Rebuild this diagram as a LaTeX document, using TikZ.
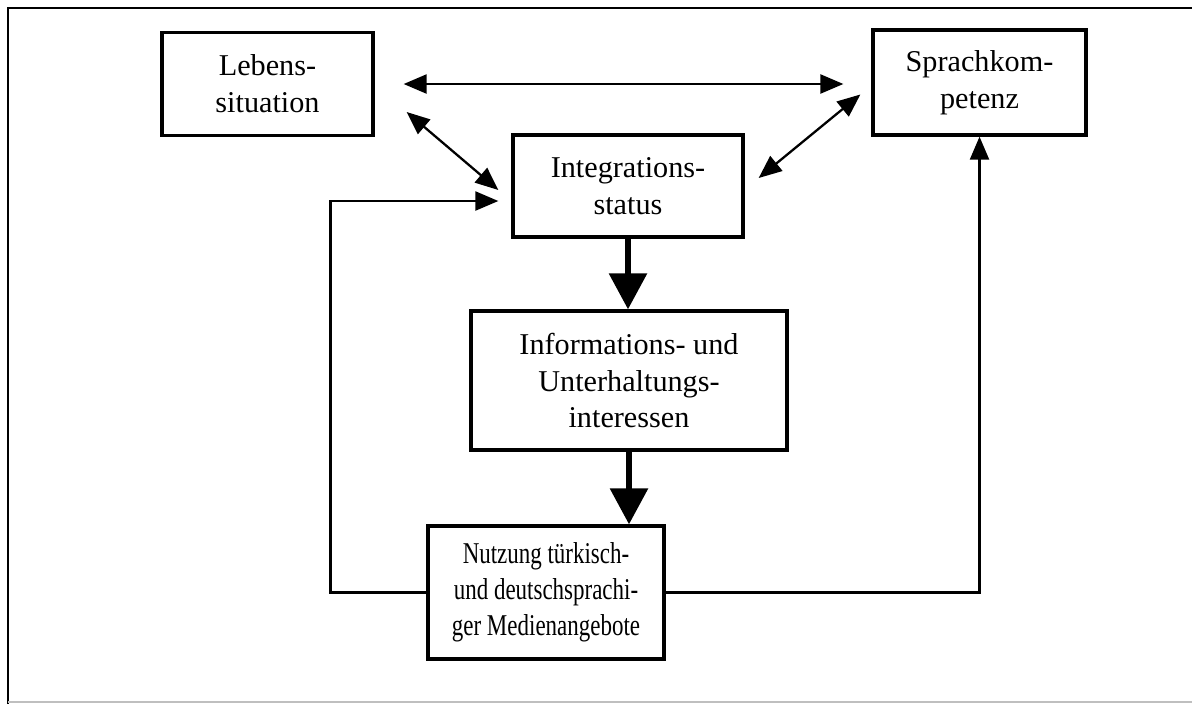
\documentclass[tikz,border=0pt]{standalone}
\usepackage{fontspec}
\setmainfont{Liberation Serif}
\newfontfamily\narrowserif[FakeStretch=0.76]{Liberation Serif}
\usetikzlibrary{arrows.meta,calc}

\tikzset{
  box/.style={draw, line width=1.9pt, align=center, inner sep=0pt},
  twoway/.style={line width=1.3pt, {Triangle[length=0.46cm,width=0.38cm]}-{Triangle[length=0.46cm,width=0.38cm]}},
  link/.style={line width=1.3pt, -{Triangle[length=0.46cm,width=0.38cm]}},
  heavy/.style={line width=3.4pt, -{Triangle[length=0.72cm,width=0.74cm]}}
}

\begin{document}
\begin{tikzpicture}[x=0.02cm, y=-0.02cm, every node/.style={font=\fontsize{17.2}{21}\selectfont}]
			\useasboundingbox (0,0) rectangle (1192,704);
			% frame
			\draw[line width=1.1pt] (1192,8) -- (8,8) -- (8,704);
			\draw[line width=0.6pt, black!25] (8,702) -- (1192,702);

			\node[box, minimum width=4.22cm, minimum height=2.06cm] (leb) at (267.5,84) {Lebens-\\situation};
			\node[box, minimum width=4.26cm, minimum height=2.1cm] (spr) at (979.5,82.5) {Sprachkom-\\petenz};
			\node[box, minimum width=4.6cm, minimum height=2.04cm] (int) at (628,186) {Integrations-\\status};
			\node[box, minimum width=6.32cm, minimum height=2.78cm] (inf) at (629,380.5) {Informations- und\\Unterhaltungs-\\interessen};
			\node[box, minimum width=4.72cm, minimum height=2.66cm, font=\fontsize{17.2}{20.5}\narrowserif] (nutz) at (546,592.5) {Nutzung türkisch-\\und deutschsprachi-\\ger Medienangebote};

			\draw[twoway, shorten <=0.58cm, shorten >=0.56cm] (leb.east) -- (leb.east -| spr.west);
			\draw[twoway] ($(leb.east)+(32,28)$) -- ($(int.west)+(-13,4)$);
			\draw[twoway] ($(spr.west)+(-11,12)$) -- ($(int.east)+(14,-8)$);

			\draw[heavy] (int.south) -- (int.south |- inf.north);
			\draw[heavy] (inf.south) -- (inf.south |- nutz.north);

			\draw[link] (nutz.west) -- ++(-96,0) |- ($(int.west)+(-13,15)$);
			\draw[link] (nutz.east) -| (spr.south);
		\end{tikzpicture}
\end{document}
